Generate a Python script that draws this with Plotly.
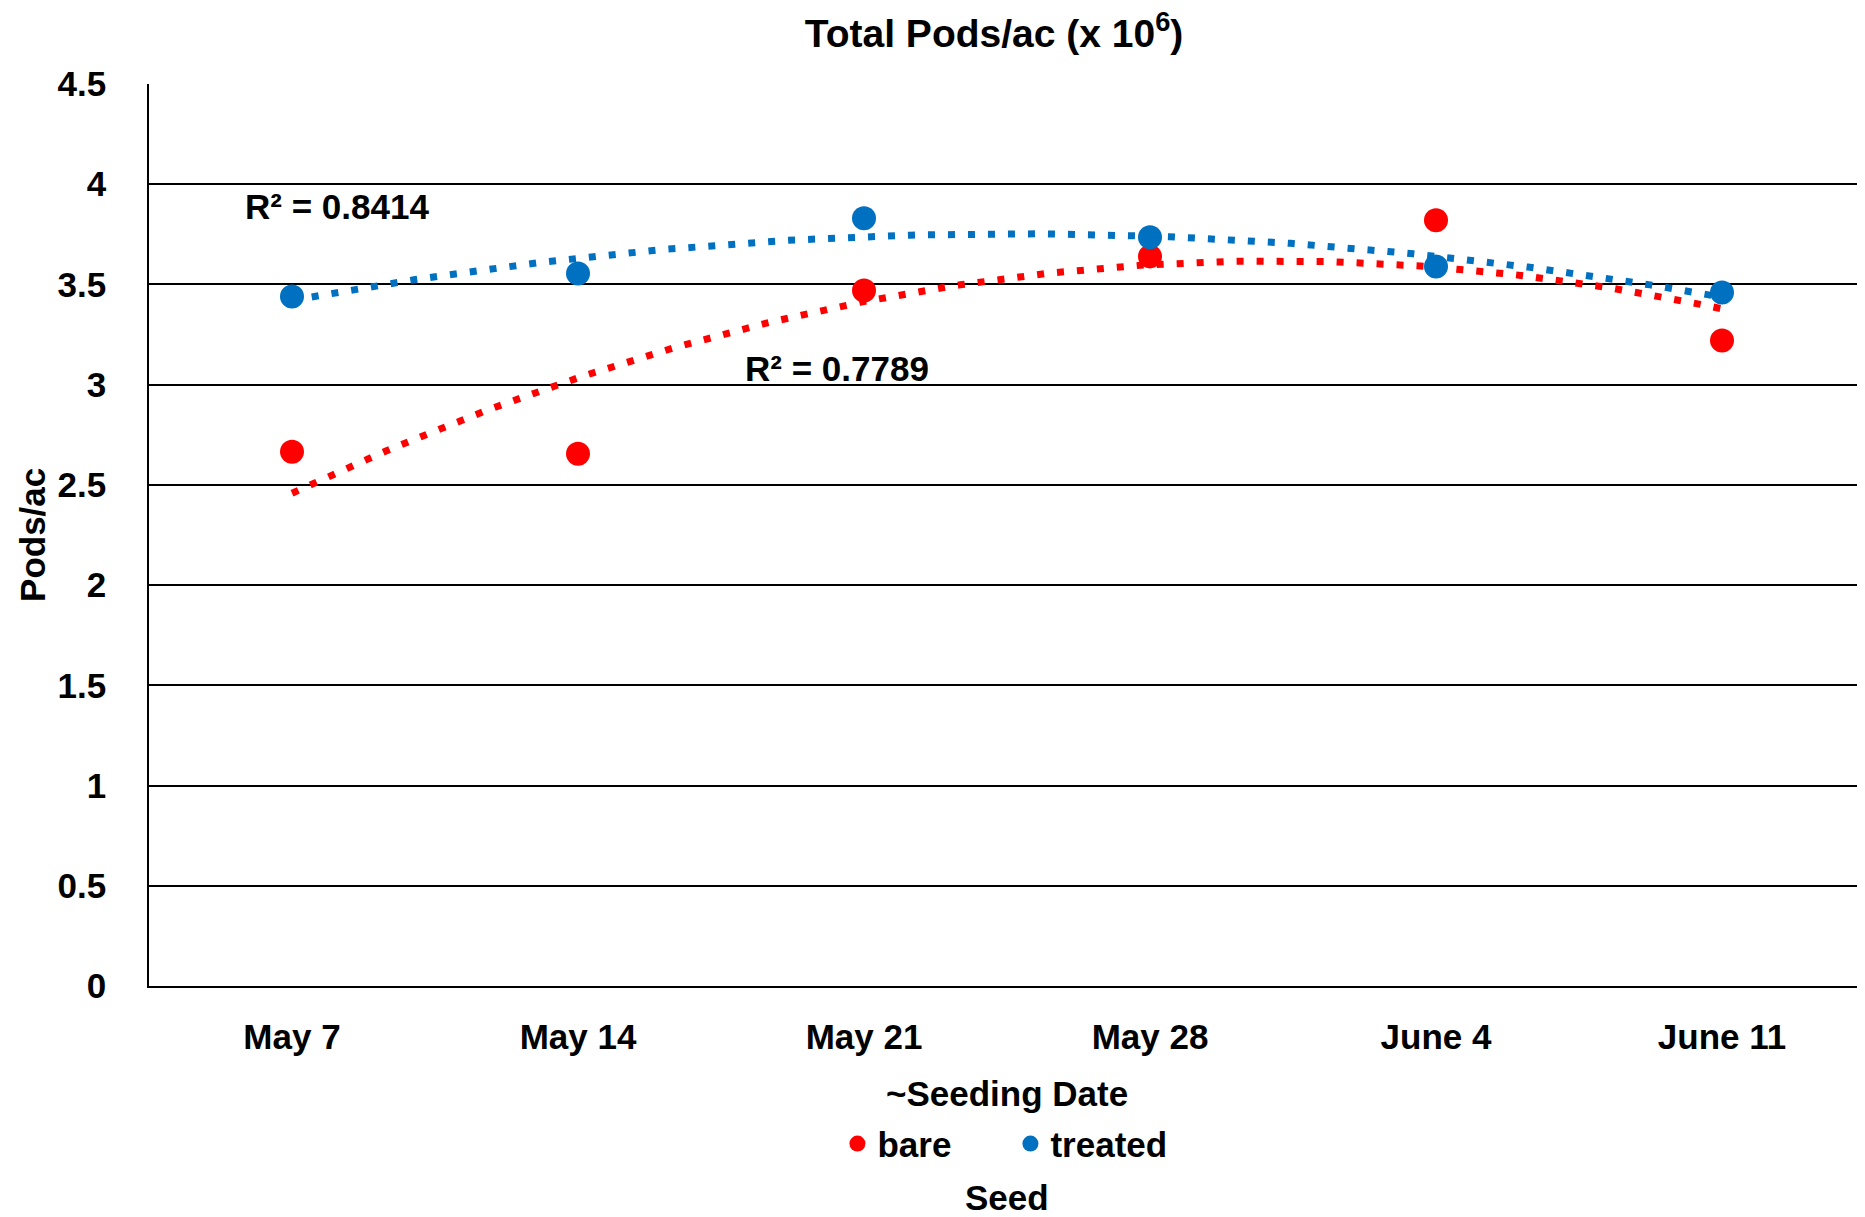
import numpy as np
import plotly.graph_objects as go

dates = ["May 7", "May 14", "May 21", "May 28", "June 4", "June 11"]
bare = [2.665, 2.655, 3.47, 3.64, 3.82, 3.22]
treated = [3.44, 3.555, 3.83, 3.735, 3.59, 3.46]
y_ticks = [0, 0.5, 1, 1.5, 2, 2.5, 3, 3.5, 4, 4.5]
y_ticktext = ["0", "0.5", "1", "1.5", "2", "2.5", "3", "3.5", "4", "4.5"]

RED = "#FF0000"
BLUE = "#0070C0"
FONT = "Liberation Sans, Arial, sans-serif"

xi = np.arange(len(dates))
xf = np.linspace(0, len(dates) - 1, 200)

fig = go.Figure()
for vals, col in [(bare, RED), (treated, BLUE)]:
    coef = np.polyfit(xi, vals, 2)
    fig.add_trace(go.Scatter(x=xf, y=np.polyval(coef, xf), mode="lines",
                             line=dict(color=col, width=7, dash="7px,13px"),
                             showlegend=False, hoverinfo="skip"))
for vals, col, name in [(bare, RED, "bare"), (treated, BLUE, "treated")]:
    fig.add_trace(go.Scatter(x=xi, y=vals, mode="markers", name=f"<b>{name}</b>",
                             marker=dict(color=col, size=24)))

fig.update_layout(
    width=1857, height=1209,
    margin=dict(l=141, r=0, t=76, b=231, autoexpand=False),
    paper_bgcolor="white", plot_bgcolor="white",
    font=dict(family=FONT, size=35, color="black"),
    title=dict(text="<b>Total Pods/ac (x 10<sup>6</sup>)</b>", x=0.531, xanchor="center",
               y=0.979, yanchor="middle", yref="container",
               font=dict(size=39, family=FONT, color="black")),
    showlegend=True,
    legend=dict(orientation="h", x=0.502, xanchor="center", y=-0.175, yanchor="middle",
                font=dict(size=35, family=FONT, color="black"), itemwidth=30,
                entrywidth=128, entrywidthmode="pixels",
                bgcolor="rgba(0,0,0,0)"),
)
fig.update_xaxes(range=[-0.5, 5.5], tickmode="array", tickvals=list(xi),
                 ticktext=[f"<b>{d}</b>" for d in dates], automargin=False,
                 showgrid=False, zeroline=False, showline=True, linecolor="black",
                 linewidth=2, ticks="", ticklabelstandoff=19)
fig.update_yaxes(range=[0, 4.5], tickmode="array", tickvals=y_ticks,
                 ticktext=[f"<b>{t}</b>" for t in y_ticktext], automargin=False,
                 showgrid=True, gridcolor="black", gridwidth=2, zeroline=False,
                 showline=True, linecolor="black", linewidth=1.5, ticks="",
                 ticklabelstandoff=34)

fig.add_annotation(text="<b>~Seeding Date</b>", xref="paper", yref="paper",
                   x=0.5, y=-0.1197, showarrow=False, xanchor="center", yanchor="middle")
fig.add_annotation(text="<b>Seed</b>", xref="paper", yref="paper",
                   x=0.5, y=-0.234, showarrow=False, xanchor="center", yanchor="middle")
fig.add_annotation(text="<b>Pods/ac</b>", xref="paper", yref="paper",
                   x=-0.0682, y=0.5, textangle=-90, showarrow=False,
                   xanchor="center", yanchor="middle")
fig.add_annotation(text="<b>R² = 0.8414</b>", xref="x", yref="y",
                   x=-0.17, y=3.89, showarrow=False, xanchor="left", yanchor="middle")
fig.add_annotation(text="<b>R² = 0.7789</b>", xref="x", yref="y",
                   x=1.577, y=3.08, showarrow=False, xanchor="left", yanchor="middle")

fig.write_html("out.html")
